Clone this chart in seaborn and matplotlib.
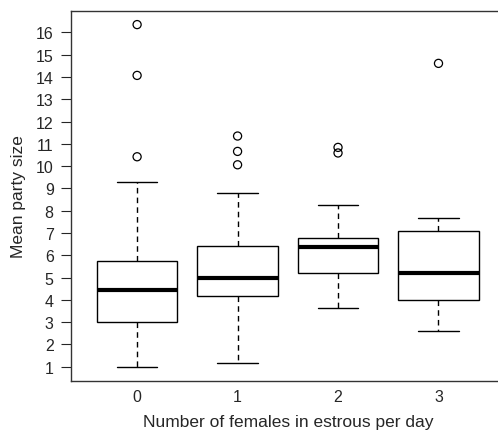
import numpy as np
import pandas as pd
import matplotlib
matplotlib.use("Agg")
import matplotlib.pyplot as plt
import seaborn as sns

# Summary values (R-style boxplot)
groups = ["0", "1", "2", "3"]
whisker_low = [1.00, 1.15, 3.65, 2.60]
q1 = [3.02, 4.16, 5.20, 3.98]
median = [4.44, 4.97, 6.36, 5.20]
q3 = [5.74, 6.43, 6.79, 7.07]
whisker_high = [9.29, 8.78, 8.27, 7.67]
outlier_groups = ["0", "0", "0", "1", "1", "1", "2", "2", "3"]
outlier_values = [16.35, 14.07, 10.42, 11.35, 10.66, 10.06, 10.84, 10.59, 14.61]
y_ticks = list(range(1, 17))

sns.set_style("white")
plt.rcParams["font.family"] = ["Liberation Sans", "DejaVu Sans"]

rows = []
for g, a, b, c, d, e in zip(groups, whisker_low, q1, median, q3, whisker_high):
    for v in (a, b, c, d, e):
        rows.append({"group": g, "value": v})
box_df = pd.DataFrame(rows)
out_df = pd.DataFrame({"group": outlier_groups, "value": outlier_values})

fig = plt.figure(figsize=(4.98, 4.35), dpi=100)
ax = fig.add_axes([71 / 498, 1 - 381.7 / 435, (505 - 71) / 498, (381.7 - 12) / 435])

sns.boxplot(
    data=box_df, x="group", y="value", order=groups, ax=ax,
    whis=(0, 100), width=0.8, color="white", linecolor="black",
    linewidth=1.0, showfliers=False, capwidths=0.4,
    whiskerprops={"linestyle": (0, (4, 3)), "linewidth": 1.0},
    capprops={"linewidth": 1.0},
    medianprops={"linewidth": 3.0, "color": "black"},
    boxprops={"linewidth": 1.0},
)
sns.scatterplot(
    data=out_df, x="group", y="value", ax=ax,
    marker="o", s=34, facecolor="none", edgecolor="black", linewidth=0.9,
    legend=False, zorder=5,
)

ax.set_xlim(-0.658, 3.662)
ax.set_ylim(0.372, 16.96)
ax.set_yticks(y_ticks)
ax.set_yticklabels([str(t) for t in y_ticks])
ax.set_xlabel("Number of females in estrous per day", fontsize=12.5, labelpad=7)
ax.set_ylabel("Mean party size", fontsize=12.5, labelpad=7)
ax.tick_params(axis="y", direction="out", length=7, width=0.8, pad=5.5, labelsize=11.5, left=True)
ax.tick_params(axis="x", length=0, pad=6, labelsize=11.5)
for s in ax.spines.values():
    s.set_color("#333333")
    s.set_linewidth(1.0)
    s.set_visible(True)

fig.savefig("out.png", dpi=100)
